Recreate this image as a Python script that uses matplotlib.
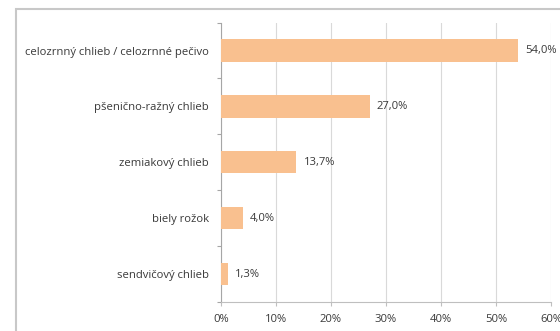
import matplotlib.pyplot as plt
from matplotlib.patches import Rectangle

plt.rcParams['font.family'] = ['Open Sans', 'DejaVu Sans']

categories = ['celozrnný chlieb / celozrnné pečivo', 'pšenično-ražný chlieb',
              'zemiakový chlieb', 'biely rožok', 'sendvičový chlieb']
values = [54.0, 27.0, 13.7, 4.0, 1.3]
xticks = [0, 10, 20, 30, 40, 50, 60]

text_color = '#3a3a3a'
bar_color = '#F9C08F'
fs = 8.1

fig = plt.figure(figsize=(5.6, 3.31), dpi=100)
ax = fig.add_axes([221 / 560, 1 - 302 / 331, 330 / 560, (302 - 22.6) / 331])

y = list(range(len(categories)))
ax.barh(y, values, height=0.4, color=bar_color, zorder=3)

for yi, v in zip(y, values):
    ax.text(v + 1.3, yi, f'{v:.1f}%'.replace('.', ','), va='center', ha='left',
            fontsize=fs, color=text_color)

ax.set_ylim(len(categories) - 0.5, -0.5)
ax.set_yticks(y)
ax.set_yticklabels(categories, fontsize=fs, color=text_color)
ax.set_yticks([i - 0.5 for i in range(len(categories) + 1)], minor=True)
ax.tick_params(axis='y', which='major', length=0, pad=8.5)
ax.tick_params(axis='y', which='minor', length=3, color='#a6a6a6', width=0.8)

ax.set_xlim(0, 60)
ax.set_xticks(xticks)
ax.set_xticklabels([f'{t}%' for t in xticks], fontsize=fs, color=text_color)
ax.tick_params(axis='x', length=3, color='#bfbfbf', width=0.8, pad=6)

ax.grid(axis='x', color='#d9d9d9', linewidth=0.8, zorder=0)
for side in ['top', 'right']:
    ax.spines[side].set_visible(False)
ax.spines['left'].set_color('#a6a6a6')
ax.spines['left'].set_linewidth(0.8)
ax.spines['bottom'].set_color('#bfbfbf')
ax.spines['bottom'].set_linewidth(0.8)

# outer chart-area border, running off the right and bottom edges
fig.patches.append(Rectangle((16 / 560, -0.1), 1.2, 1.1 - 9 / 331, transform=fig.transFigure,
                             fill=False, edgecolor='#c8c8c8', linewidth=1.5))

fig.savefig('out.png', dpi=100)
